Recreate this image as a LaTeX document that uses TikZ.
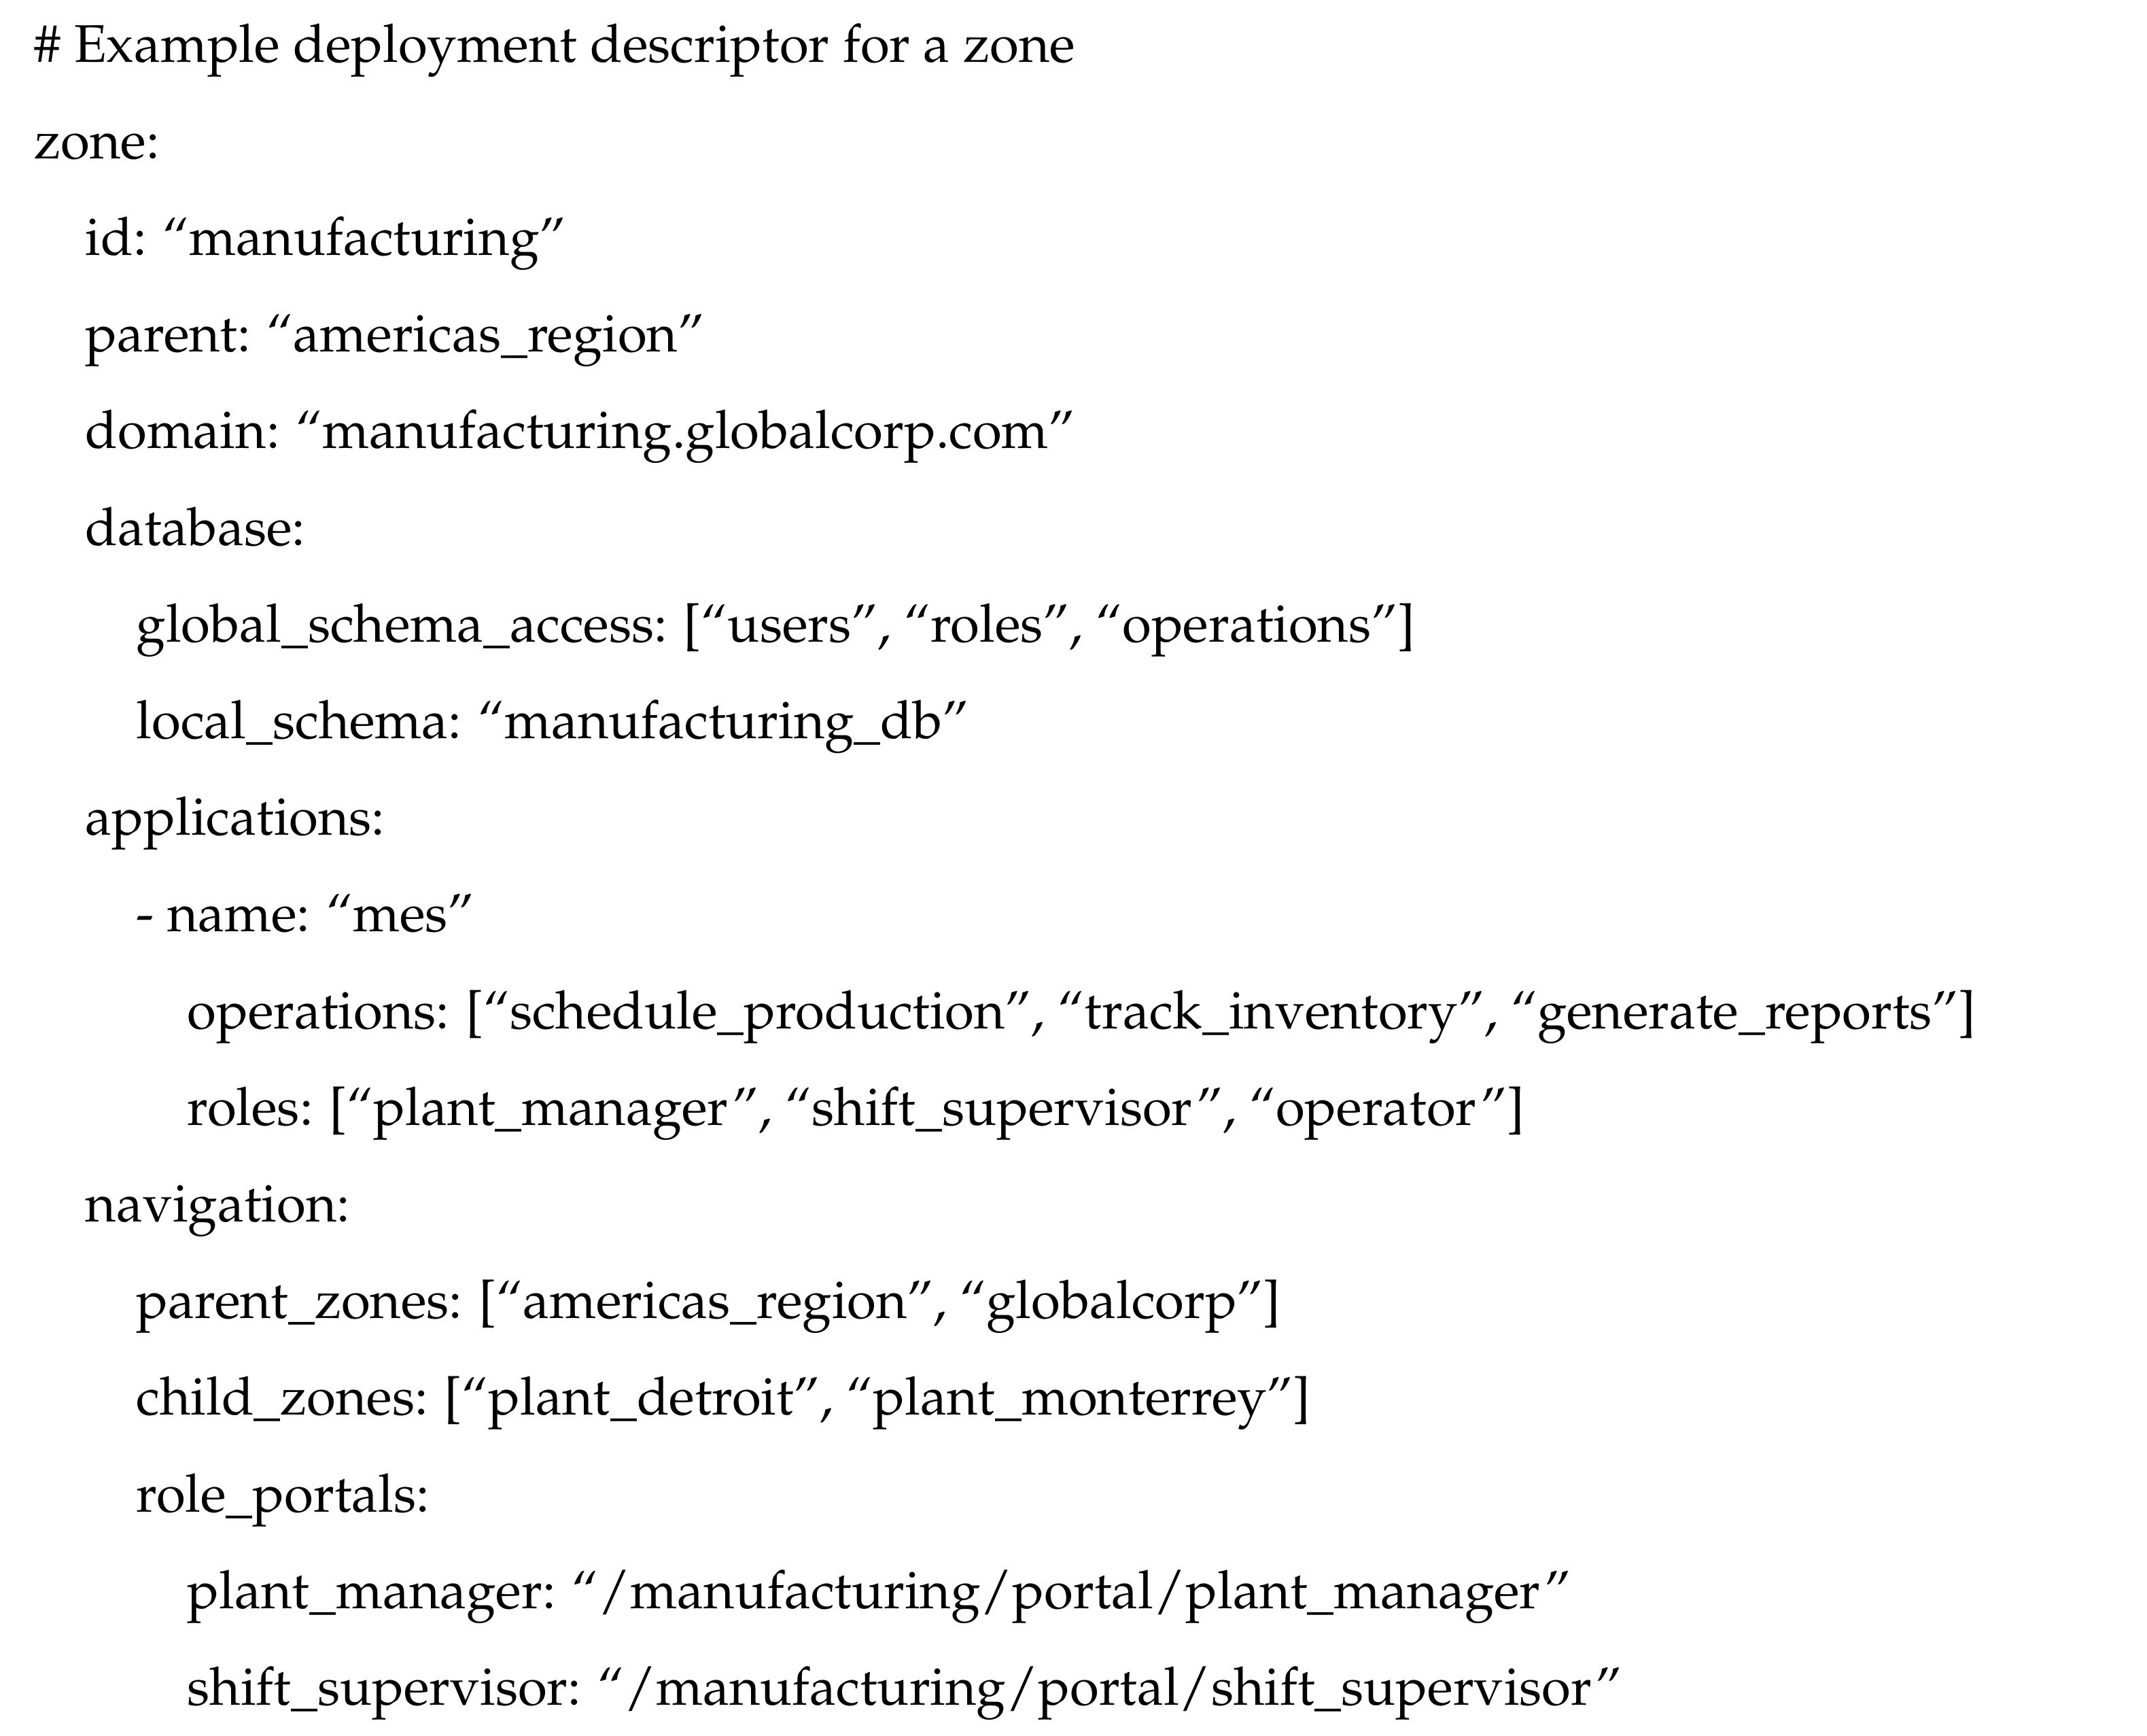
\documentclass[tikz,border=0pt]{standalone}
\usepackage[T1]{fontenc}
\usepackage{mathpazo}
\begin{document}
\begin{tikzpicture}[x=1pt,y=-1pt,
  ln/.style={anchor=base west,inner sep=0pt,font=\fontsize{19.5}{24}\selectfont}]
\useasboundingbox (0,0) rectangle (789.75,638.25);
\def\B{22.75}\def\S{35.55}\def\L{12.5}\def\I{18.75}
\foreach \t/\lv [count=\i from 0] in {
 {\# Example deployment descriptor for a zone}/0,
 {zone:}/0,
 {id: ``manufacturing''}/1,
 {parent: ``americas\_region''}/1,
 {domain: ``manufacturing.globalcorp.com''}/1,
 {database:}/1,
 {global\_schema\_access: [``users'', ``roles'', ``operations'']}/2,
 {local\_schema: ``manufacturing\_db''}/2,
 {applications:}/1,
 {- name: ``mes''}/2,
 {operations: [``schedule\_production'', ``track\_inventory'', ``generate\_reports'']}/3,
 {roles: [``plant\_manager'', ``shift\_supervisor'', ``operator'']}/3,
 {navigation:}/1,
 {parent\_zones: [``americas\_region'', ``globalcorp'']}/2,
 {child\_zones: [``plant\_detroit'', ``plant\_monterrey'']}/2,
 {role\_portals:}/2,
 {plant\_manager: ``/manufacturing/portal/plant\_manager''}/3,
 {shift\_supervisor: ``/manufacturing/portal/shift\_supervisor''}/3}
 \node[ln] (l\i) at ({\L+\I*\lv},{\B+\S*\i}) {\t};
\end{tikzpicture}
\end{document}
